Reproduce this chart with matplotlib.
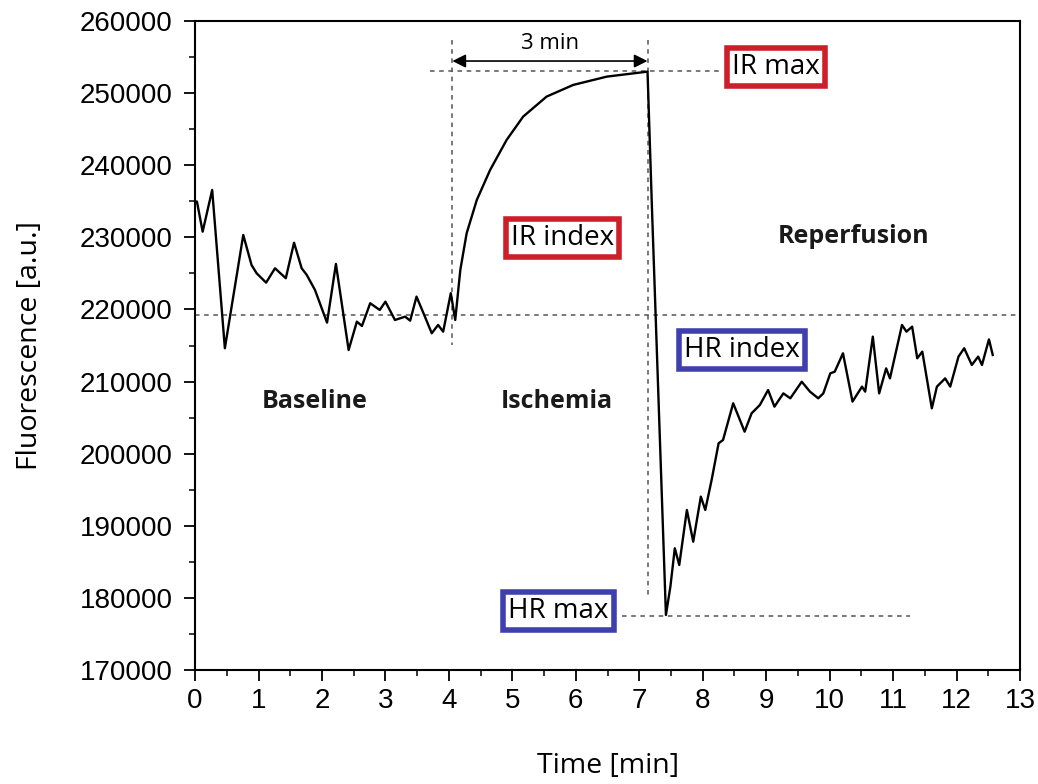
import matplotlib
matplotlib.use("Agg")
import matplotlib.pyplot as plt
from matplotlib.ticker import MultipleLocator

# ---- data ----
time_min = [0.00, 0.03, 0.12, 0.27, 0.47, 0.76, 0.89, 0.97, 1.12, 1.26, 1.43, 1.56, 1.68, 1.76,
            1.89, 2.08, 2.22, 2.42, 2.55, 2.63, 2.76, 2.91, 3.00, 3.15, 3.31, 3.39, 3.49, 3.60,
            3.73, 3.83, 3.91, 4.03, 4.10, 4.18, 4.28, 4.44, 4.65, 4.91, 5.17, 5.54, 5.96, 6.49,
            7.01, 7.13, 7.20, 7.42, 7.49, 7.56, 7.63, 7.75, 7.85, 7.97, 8.04, 8.14, 8.25, 8.32,
            8.48, 8.66, 8.77, 8.90, 9.03, 9.13, 9.27, 9.38, 9.56, 9.69, 9.82, 9.90, 10.01, 10.08,
            10.21, 10.36, 10.51, 10.56, 10.68, 10.78, 10.89, 10.95, 11.14, 11.21, 11.30, 11.38,
            11.46, 11.61, 11.69, 11.82, 11.90, 12.03, 12.12, 12.24, 12.34, 12.40, 12.51, 12.57]
fluorescence = [235000, 234950, 230790, 236570, 214620, 230330, 226170, 225020, 223720, 225710,
                224330, 229260, 225710, 224790, 222700, 218170, 226310, 214380, 218310, 217710,
                220860, 219930, 221080, 218540, 219000, 218450, 221780, 219470, 216700, 217850,
                216920, 222250, 218540, 225480, 230570, 235190, 239350, 243510, 246740, 249520,
                251140, 252290, 252850, 252980, 234000, 177630, 181550, 186880, 184560, 192190,
                187800, 194040, 192190, 196350, 201440, 201900, 206990, 203050, 205600, 206750,
                208830, 206520, 208360, 207680, 209980, 208600, 207680, 208360, 211140, 211370,
                213920, 207220, 209300, 208600, 216230, 208360, 211830, 210440, 217850, 216920,
                217620, 213230, 214150, 206290, 209300, 210440, 209300, 213460, 214620, 212300,
                213460, 212300, 215850, 213690]

baseline_level = 219200
ir_max_level = 253000
hr_max_level = 177500
ischemia_start = 4.055
reperfusion_start = 7.13

phase_labels = ["Baseline", "Ischemia", "Reperfusion"]
phase_pos = [(1.89, 207200), (5.70, 207200), (10.37, 230100)]

box_labels = ["IR max", "IR index", "HR index", "HR max"]
box_pos = [(9.16, 253600), (5.79, 229900), (8.62, 214400), (5.73, 178200)]
box_colors = ["#cc1f2a", "#cc1f2a", "#3f3fae", "#3f3fae"]

xticks = list(range(0, 14))
yticks = list(range(170000, 260001, 10000))

# ---- figure ----
fig = plt.figure(figsize=(10.38, 7.84), dpi=100)
ax = fig.add_axes([0.1879, 0.1454, 0.9827 - 0.1879, 0.9732 - 0.1454])

ax.plot(time_min, fluorescence, color="black", lw=1.7, zorder=3)

dash = dict(color="#555555", lw=1.1, ls=(0, (3, 3)), zorder=2)
ax.axhline(baseline_level, **dash)
ax.plot([3.70, 8.27], [ir_max_level, ir_max_level], **dash)
ax.plot([6.73, 11.27], [hr_max_level, hr_max_level], **dash)
ax.plot([ischemia_start, ischemia_start], [257400, 215100], **dash)
ax.plot([reperfusion_start, reperfusion_start], [257400, 180400], **dash)

ax.annotate("", xy=(ischemia_start, 254450), xytext=(reperfusion_start, 254450),
            arrowprops=dict(arrowstyle="<|-|>", color="black", lw=1.2,
                            mutation_scale=20, shrinkA=0, shrinkB=0))
ax.text((ischemia_start + reperfusion_start) / 2, 256900, "3 min", ha="center", va="center",
        fontsize=16, family="Open Sans")

for lab, (px, py) in zip(phase_labels, phase_pos):
    ax.text(px, py, lab, ha="center", va="center", fontsize=18, fontweight="bold",
            family="Open Sans", color="#1a1a1a")

for lab, (px, py), c in zip(box_labels, box_pos, box_colors):
    ax.text(px, py, lab, ha="center", va="center", fontsize=20, family="Open Sans",
            bbox=dict(boxstyle="square,pad=0.18", fc="white", ec=c, lw=4), zorder=5)

ax.set_xlim(0, 13)
ax.set_ylim(170000, 260000)
ax.set_xticks(xticks)
ax.set_yticks(yticks)
ax.xaxis.set_minor_locator(MultipleLocator(0.5))
ax.yaxis.set_minor_locator(MultipleLocator(5000))
ax.tick_params(which="major", direction="out", length=8, width=1.3, labelsize=20)
ax.tick_params(which="minor", direction="out", length=4.5, width=1.1)
for lab in ax.get_xticklabels() + ax.get_yticklabels():
    lab.set_family("Liberation Sans")
ax.tick_params(axis="x", pad=5)
ax.tick_params(axis="y", pad=8)
for s in ax.spines.values():
    s.set_linewidth(1.5)

ax.set_xlabel("Time [min]", fontsize=20.5, family="Open Sans", labelpad=27)
ax.set_ylabel("Fluorescence [a.u.]", fontsize=20.5, family="Open Sans", labelpad=26)

fig.savefig("out.png", dpi=100)
